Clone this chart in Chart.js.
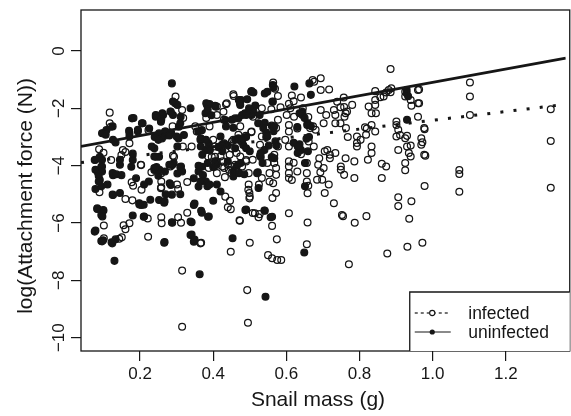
<!DOCTYPE html>
<html><head><meta charset="utf-8">
<script src="https://cdn.jsdelivr.net/npm/chart.js@4.4.1/dist/chart.umd.min.js"></script>
<style>html,body{margin:0;padding:0;background:#fff;overflow:hidden}#wrap{width:571px;height:416px}</style>
</head><body><div id="wrap"><canvas id="c" width="571" height="416"></canvas></div>
<script>
// ---- data (snail mass g, log attachment force N) ----
const seriesNames = ['infected', 'uninfected'];
const xTickValues = [0.2, 0.4, 0.6, 0.8, 1.0, 1.2];
const yTickValues = [-10, -8, -6, -4, -2, 0];
const xTitle = 'Snail mass (g)';
const yTitle = 'log(Attachment force (N))';

const infectedFit = [[0.0385, -3.89], [1.364, -1.86]];
const uninfectedFit = [[0.0385, -3.33], [1.364, -0.25]];

const infectedPoints = [
[0.885,-0.63],[1.102,-1.10],[1.102,-1.59],[1.102,-2.23],[1.323,-2.03],[1.323,-3.14],[1.323,-4.77],
[1.073,-4.15],[1.073,-4.29],[1.073,-4.91],[0.978,-4.71],[0.972,-6.69],[0.931,-6.83],[0.876,-7.06],[0.771,-7.44],
[0.936,-5.85],[0.906,-5.41],[0.906,-5.10],[0.942,-5.24],[0.819,-5.76],[0.787,-5.99],[0.755,-5.76],[0.752,-5.72],
[0.730,-5.31],[0.658,-5.98],[0.656,-6.74],[0.607,-5.66],[0.574,-6.57],[0.561,-6.10],[0.550,-7.12],[0.561,-7.23],
[0.575,-7.29],[0.586,-7.29],[0.493,-8.34],[0.495,-9.48],[0.315,-7.66],[0.315,-9.62],[0.500,-6.69],[0.448,-7.00],
[0.473,-5.92],[0.524,-5.80],[0.514,-5.66],[0.527,-5.69],[0.448,-5.52],[0.446,-5.22],[0.433,-5.08],[0.365,-6.71],
[0.329,-5.64],[0.304,-5.80],[0.312,-5.99],[0.258,-5.80],[0.259,-6.01],[0.221,-5.84],[0.222,-6.48],[0.171,-6.01],
[0.160,-6.22],[0.155,-6.08],[0.150,-6.50],[0.143,-6.55],[0.101,-6.09],[0.101,-6.53],[0.198,-5.35],[0.160,-5.16],
[0.179,-5.21],[0.204,-4.84],[0.202,-3.97],[0.177,-4.58],[0.181,-4.70],[0.089,-4.93],
[0.117,-2.15],[0.117,-2.52],[0.120,-2.64],[0.223,-2.76],[0.171,-3.22],[0.153,-3.45],[0.149,-3.63],[0.160,-3.52],
[0.088,-3.43],[0.100,-3.55],[0.121,-3.80],[0.203,-3.98],[0.293,-3.69],[0.257,-4.79],[0.297,-1.59],[0.315,-2.06],
[0.318,-2.34],[0.289,-2.63],[0.290,-3.65],[0.301,-4.66],[0.329,-4.57],[0.304,-4.81],[0.258,-4.55],[0.258,-4.75],
[0.258,-4.26],[0.231,-4.23],[0.317,-3.33],[0.283,-4.03],[0.341,-3.33],[0.351,-2.63],[0.355,-2.81],
[0.455,-1.51],[0.437,-1.82],[0.428,-2.12],[0.410,-1.94],[0.451,-3.16],[0.396,-3.69],[0.405,-3.69],[0.410,-3.85],
[0.425,-4.03],[0.440,-3.97],[0.460,-3.97],[0.490,-3.80],[0.505,-2.81],[0.509,-2.29],[0.440,-5.45],[0.500,-5.08],
[0.564,-1.10],[0.569,-1.32],[0.577,-1.57],[0.562,-1.76],[0.456,-1.57],[0.435,-1.86],[0.533,-2.00],[0.559,-2.03],
[0.584,-1.96],[0.607,-1.84],[0.611,-2.00],[0.601,-2.23],[0.621,-2.29],[0.577,-2.40],[0.572,-2.69],[0.607,-2.58],
[0.607,-2.81],[0.597,-3.10],[0.607,-3.33],[0.607,-3.85],[0.607,-4.03],[0.607,-4.26],[0.607,-4.43],[0.577,-3.33],
[0.567,-3.62],[0.567,-3.91],[0.572,-4.08],[0.554,-4.26],[0.572,-4.32],[0.564,-4.61],[0.572,-4.95],[0.562,-5.13],
[0.554,-4.55],[0.533,-4.43],[0.548,-3.91],[0.528,-3.65],[0.528,-3.27],[0.533,-2.98],[0.544,-2.69],[0.504,-2.83],
[0.489,-2.96],[0.474,-2.63],[0.469,-2.92],[0.508,-3.79],[0.490,-3.85],[0.474,-3.68],[0.479,-4.03],[0.497,-4.26],
[0.497,-4.66],[0.496,-4.84],[0.499,-5.14],[0.499,-4.95],[0.525,-4.66],[0.450,-4.03],[0.443,-4.14],[0.430,-4.08],
[0.450,-4.26],[0.460,-4.14],[0.432,-4.40],[0.420,-3.68],[0.426,-3.85],[0.445,-3.62],[0.455,-3.10],[0.450,-3.39],
[0.464,-3.56],[0.400,-3.10],[0.405,-3.33],[0.415,-3.36],[0.405,-4.03],[0.410,-4.26],[0.386,-3.68],[0.388,-4.08],
[0.390,-2.63],[0.381,-2.34],[0.410,-2.23],[0.429,-2.40],[0.472,-5.90],[0.508,-5.65],[0.367,-6.69],
[0.672,-1.01],[0.694,-0.95],[0.676,-1.07],[0.694,-1.36],[0.717,-1.34],[0.757,-1.62],[0.739,-1.77],[0.780,-1.88],
[0.758,-1.95],[0.748,-1.96],[0.766,-2.11],[0.759,-2.29],[0.734,-2.23],[0.730,-2.06],[0.762,-2.17],[0.709,-2.23],
[0.702,-2.52],[0.734,-2.52],[0.748,-2.52],[0.763,-2.69],[0.768,-3.00],[0.793,-2.98],[0.793,-3.21],[0.793,-3.33],
[0.803,-3.10],[0.825,-1.94],[0.833,-2.17],[0.843,-1.88],[0.845,-2.17],[0.843,-1.40],[0.857,-1.61],[0.843,-1.71],
[0.866,-1.59],[0.880,-1.36],[0.887,-1.30],[0.873,-1.45],[0.885,-1.44],[0.815,-2.66],[0.833,-2.58],[0.843,-2.81],
[0.818,-2.92],[0.820,-2.70],[0.833,-3.33],[0.833,-3.56],[0.823,-3.79],[0.861,-3.93],[0.873,-4.03],[0.861,-4.43],
[0.786,-3.85],[0.786,-4.43],[0.762,-3.74],[0.749,-4.03],[0.749,-4.14],[0.758,-4.32],[0.734,-3.56],[0.719,-3.62],
[0.719,-3.74],[0.705,-3.50],[0.690,-3.74],[0.687,-3.97],[0.702,-4.08],[0.693,-4.23],[0.684,-4.49],[0.698,-4.49],
[0.716,-4.66],[0.705,-4.95],[0.656,-3.91],[0.656,-4.26],[0.656,-4.55],[0.661,-3.16],[0.665,-2.69],[0.673,-2.63],
[0.675,-3.33],[0.712,-3.45],[0.694,-2.06],[0.658,-4.96],[0.660,-4.70],
[0.901,-2.46],[0.901,-2.58],[0.906,-2.75],[0.901,-2.98],[0.906,-3.45],[0.925,-3.04],[0.930,-2.96],[0.930,-3.33],
[0.925,-3.91],[0.925,-4.16],[0.935,-3.56],[0.940,-3.68],[0.940,-1.71],[0.942,-1.91],[0.960,-1.82],[0.960,-1.36],
[0.960,-2.29],[0.969,-3.04],[0.969,-3.27],[0.977,-3.62],[0.977,-2.69],[0.940,-3.30],[0.925,-1.42],[0.925,-1.59],
[0.911,-2.93],[0.972,-3.18],[0.963,-1.34],[0.963,-1.82],[0.978,-2.73],[0.980,-3.65],
[0.615,-1.55],[0.620,-1.75],[0.640,-1.62],[0.645,-2.00],[0.660,-2.30],[0.680,-2.75],[0.630,-2.70],[0.640,-3.60],
[0.620,-3.90],[0.630,-4.20],[0.615,-4.50]
];

const uninfectedPoints = [
[0.287,-1.13],[0.505,-1.40],[0.476,-1.71],[0.383,-1.88],[0.406,-1.94],[0.338,-2.00],[0.296,-1.82],[0.284,-2.12],
[0.261,-2.17],[0.243,-2.23],[0.178,-2.35],[0.207,-2.52],[0.257,-2.47],[0.311,-2.29],[0.379,-2.17],[0.395,-2.24],
[0.433,-2.41],[0.469,-2.35],[0.487,-2.17],[0.505,-2.23],[0.473,-1.82],[0.099,-2.87],[0.108,-2.76],[0.126,-3.10],
[0.171,-2.87],[0.194,-2.81],[0.225,-2.70],[0.252,-2.87],[0.270,-2.81],[0.285,-2.85],[0.306,-2.64],[0.320,-2.93],
[0.305,-3.05],[0.369,-2.76],[0.365,-3.10],[0.387,-3.22],[0.379,-3.45],[0.415,-3.34],[0.430,-3.22],[0.460,-3.10],
[0.482,-3.28],[0.470,-3.10],[0.490,-3.00],
[0.076,-3.80],[0.090,-3.69],[0.094,-4.04],[0.085,-4.25],[0.090,-4.50],[0.094,-4.72],[0.126,-4.33],[0.149,-4.33],
[0.176,-4.04],[0.189,-4.44],[0.180,-3.80],[0.239,-3.39],[0.243,-3.69],[0.252,-3.69],[0.239,-4.15],[0.250,-4.35],
[0.288,-3.98],[0.302,-4.27],[0.284,-4.67],[0.310,-4.05],[0.347,-4.44],[0.369,-4.04],[0.372,-4.33],[0.360,-4.73],
[0.380,-4.55],[0.400,-4.05],[0.405,-3.85],[0.410,-3.95],[0.455,-4.38],[0.440,-3.85],[0.455,-4.20],[0.465,-4.00],
[0.420,-4.90],[0.126,-5.02],[0.198,-5.31],[0.252,-5.20],[0.270,-5.00],[0.310,-5.00],
[0.083,-5.49],[0.099,-5.55],[0.094,-5.72],[0.076,-6.30],[0.094,-6.63],[0.099,-6.60],[0.124,-6.71],[0.133,-6.57],
[0.130,-7.32],[0.180,-5.74],[0.203,-5.37],[0.210,-5.36],[0.210,-5.78],[0.266,-5.29],[0.266,-6.69],[0.288,-5.99],
[0.338,-5.95],[0.338,-6.42],[0.347,-6.65],[0.347,-5.37],[0.369,-5.64],[0.386,-5.78],[0.363,-7.79],[0.453,-6.53],
[0.488,-5.55],[0.541,-5.57],[0.561,-5.78],[0.649,-7.03],[0.543,-8.57],
[0.622,-1.24],[0.663,-1.13],[0.667,-1.53],[0.563,-1.19],[0.565,-1.28],[0.541,-1.48],[0.548,-1.42],[0.510,-1.45],
[0.563,-1.77],[0.515,-1.90],[0.510,-2.10],[0.644,-2.12],[0.644,-2.23],[0.658,-2.52],[0.667,-2.62],[0.630,-2.65],
[0.636,-3.25],[0.636,-3.39],[0.640,-3.45],[0.662,-3.00],[0.541,-2.50],[0.545,-2.85],[0.560,-2.60],[0.565,-2.80],
[0.570,-3.15],[0.545,-3.00],[0.552,-3.30],[0.540,-3.45],[0.530,-3.70],[0.560,-3.70],[0.573,-3.30],[0.535,-3.91],
[0.522,-4.23],[0.524,-4.78],[0.490,-5.53],[0.540,-5.56],[0.557,-5.80],[0.651,-4.72],[0.651,-3.91],[0.650,-2.34],
[0.657,-2.58],[0.655,-3.06],[0.659,-3.50],[0.631,-3.33],[0.631,-3.56],[0.620,-3.20],[0.636,-2.17],
[0.504,-1.42],[0.493,-1.68],[0.470,-1.71],[0.474,-1.88],[0.498,-2.00],[0.527,-2.23],[0.523,-2.52],[0.537,-2.69],
[0.567,-2.63],[0.548,-2.98],[0.567,-3.74],[0.451,-2.40],[0.460,-2.35],[0.479,-2.23],[0.490,-2.23],[0.469,-3.04],
[0.480,-3.10],[0.490,-3.39],[0.500,-3.50],[0.460,-3.39],[0.475,-3.91],[0.471,-4.26],[0.485,-4.30],[0.520,-4.26],
[0.530,-3.56],[0.425,-3.50],[0.435,-2.63],[0.455,-2.68],[0.420,-2.98],[0.424,-3.27],[0.440,-3.30],
[0.381,-1.82],[0.390,-1.85],[0.405,-1.91],[0.385,-2.05],[0.359,-2.81],[0.366,-3.04],[0.366,-3.33],[0.380,-3.10],
[0.391,-3.45],[0.370,-3.62],[0.385,-3.91],[0.360,-4.00],[0.360,-4.20],[0.365,-4.55],[0.384,-4.72],[0.390,-4.66],
[0.410,-4.66],[0.310,-2.52],[0.290,-2.23],[0.302,-1.88],[0.290,-1.76],[0.283,-2.11],[0.263,-2.23],[0.243,-2.29],
[0.258,-2.40],[0.268,-2.81],[0.270,-2.95],[0.260,-3.05],[0.240,-3.00],[0.250,-3.10],[0.280,-2.95],[0.300,-2.98],
[0.302,-3.33],[0.292,-3.91],[0.280,-3.97],[0.312,-4.03],[0.315,-4.20],[0.268,-4.20],[0.253,-4.14],[0.245,-4.05],
[0.281,-4.61],[0.224,-4.55],[0.228,-5.19],[0.267,-5.24],[0.211,-5.77],[0.287,-5.01],[0.287,-5.97],[0.341,-5.97],
[0.341,-6.40],[0.349,-6.58],[0.267,-6.66],[0.349,-5.32],[0.367,-5.57],[0.388,-5.77],[0.400,-5.22],[0.239,-4.08],
[0.239,-3.68],[0.232,-3.33],[0.211,-4.66],[0.205,-2.52],[0.194,-2.75],[0.182,-2.34],[0.170,-2.78],[0.171,-2.98],
[0.180,-3.58],[0.145,-3.79],[0.145,-3.97],[0.133,-3.19],[0.125,-2.63],[0.096,-2.87],[0.106,-2.92],[0.078,-4.14],
[0.078,-3.79],[0.096,-3.79],[0.096,-4.03],[0.096,-4.20],[0.087,-4.36],[0.111,-4.66],[0.125,-4.26],[0.135,-4.30],
[0.078,-4.81],[0.087,-4.55],[0.125,-5.01],[0.145,-4.95],[0.083,-5.51],[0.100,-5.56],[0.097,-5.77],[0.122,-6.67],
[0.096,-6.64],[0.078,-6.26],[0.929,-1.36],[0.929,-1.47],[0.933,-1.58],[0.930,-2.40]
];

// ---- styling ----
const INK = '#161616';
const FONT = '"Liberation Sans", Arial, Helvetica, sans-serif';
const toXY = a => a.map(p => ({x: p[0], y: p[1]}));

const framePlugin = {
  id: 'frame',
  afterDatasetsDraw(chart) {
    const {ctx, chartArea: a} = chart;
    ctx.save();
    ctx.strokeStyle = INK; ctx.lineWidth = 1.3;
    ctx.strokeRect(a.left, a.top, a.right - a.left + 4, a.bottom - a.top);
    ctx.restore();
  }
};

const legendTitlesPlugin = {
  id: 'legendTitles',
  afterDraw(chart) {
    const {ctx, chartArea: a} = chart;
    ctx.save();
    const left = a.right - 156, top = a.bottom - 59;
    ctx.fillStyle = '#fff';
    ctx.fillRect(left, top, a.right - left + 4, a.bottom - top);
    ctx.strokeStyle = INK; ctx.lineWidth = 1.3;
    ctx.beginPath(); ctx.moveTo(left, a.bottom); ctx.lineTo(left, top); ctx.lineTo(a.right + 4, top); ctx.stroke();
    const entries = chart.data.datasets.filter(d => d.legendEntry);
    entries.forEach((d, i) => {
      const yy = top + 21 + i * 19;
      ctx.strokeStyle = INK; ctx.lineWidth = 1.2;
      ctx.setLineDash(d.legendDash);
      ctx.beginPath(); ctx.moveTo(left + 5, yy); ctx.lineTo(left + 41, yy); ctx.stroke();
      ctx.setLineDash([]);
      ctx.beginPath(); ctx.arc(left + 22.5, yy, 2.6, 0, Math.PI * 2);
      if (d.legendFilled) { ctx.fillStyle = INK; ctx.fill(); }
      else { ctx.fillStyle = '#fff'; ctx.fill(); ctx.lineWidth = 1.1; ctx.stroke(); }
      ctx.fillStyle = INK; ctx.font = '17.5px ' + FONT;
      ctx.textAlign = 'left'; ctx.textBaseline = 'middle';
      ctx.fillText(d.label, left + 58.5, yy + 1);
    });
    ctx.fillStyle = INK; ctx.font = '21px ' + FONT;
    ctx.textAlign = 'center'; ctx.textBaseline = 'alphabetic';
    ctx.fillText(xTitle, a.left + 237, 406);
    ctx.translate(31.5, a.top + 186);
    ctx.rotate(-Math.PI / 2);
    ctx.fillText(yTitle, 0, 0);
    ctx.restore();
  }
};

new Chart(document.getElementById('c'), {
  type: 'scatter',
  data: {
    datasets: [
      {label: 'uninfected fit', type: 'line', data: toXY(uninfectedFit), borderColor: INK, borderWidth: 2.8,
       pointRadius: 0, fill: false, tension: 0},
      {label: 'infected fit', type: 'line', data: toXY(infectedFit), borderColor: INK, borderWidth: 3,
       borderDash: [3, 10.2], borderCapStyle: 'butt', pointRadius: 0, fill: false, tension: 0},
      {label: seriesNames[0], data: toXY(infectedPoints), pointRadius: 3.4, pointBorderWidth: 1.25,
       borderColor: INK, backgroundColor: 'rgba(0,0,0,0)', legendEntry: true, legendDash: [3, 3], legendFilled: false},
      {label: seriesNames[1], data: toXY(uninfectedPoints), pointRadius: 3.4, pointBorderWidth: 1.25,
       borderColor: INK, backgroundColor: INK, legendEntry: true, legendDash: [], legendFilled: true}
    ]
  },
  options: {
    responsive: false, animation: false, devicePixelRatio: 1,
    layout: {padding: {top: 10, right: 0, left: 0, bottom: 0}},
    plugins: {legend: {display: false}, tooltip: {enabled: false}},
    scales: {
      x: {
        type: 'linear', min: 0.0385, max: 1.364,
        afterBuildTicks: s => { s.ticks = xTickValues.map(v => ({value: v})); },
        afterFit: s => { s.height = 65; },
        grid: {drawOnChartArea: false, tickLength: 10, color: INK, lineWidth: 1.2},
        border: {display: false},
        ticks: {color: INK, font: {family: FONT, size: 17}, padding: 3, maxRotation: 0,
                callback: v => v.toFixed(1)}
      },
      y: {
        type: 'linear', min: -10.464, max: 1.43,
        afterBuildTicks: s => { s.ticks = yTickValues.map(v => ({value: v})); },
        afterFit: s => { s.width = 81; },
        grid: {drawOnChartArea: false, tickLength: 10, color: INK, lineWidth: 1.2},
        border: {display: false},
        ticks: {color: INK, font: {family: FONT, size: 17}, padding: -3, minRotation: 90, maxRotation: 90,
                crossAlign: 'center',
                callback: v => (v < 0 ? '\u2212' : '') + Math.abs(v)}
      }
    }
  },
  plugins: [framePlugin, legendTitlesPlugin]
});
</script>
</body></html>
